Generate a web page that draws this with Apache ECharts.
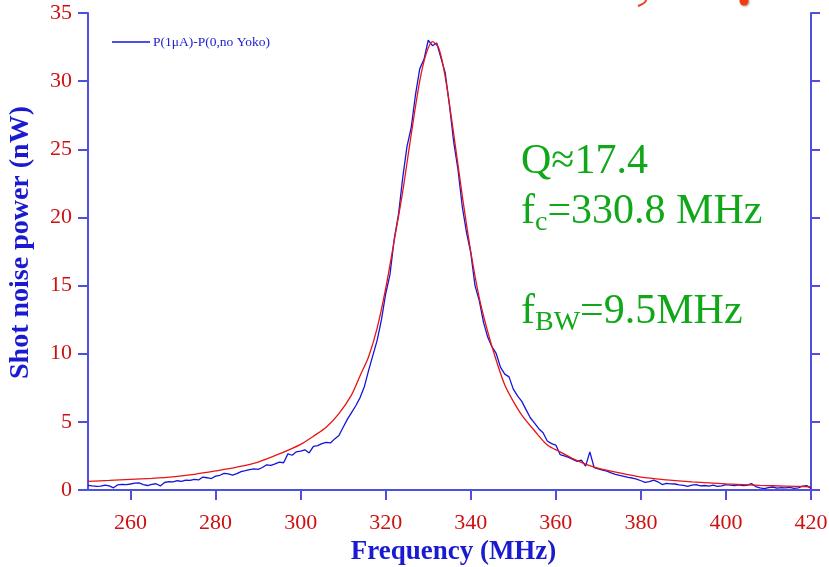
<!DOCTYPE html>
<html>
<head>
<meta charset="utf-8">
<script src="https://cdn.jsdelivr.net/npm/echarts@6/dist/echarts.min.js"></script>
<style>
  html, body { margin: 0; padding: 0; background: #ffffff; }
  #chart { width: 829px; height: 567px; }
</style>
</head>
<body>
<div id="chart"></div>
<script>
// Measured shot noise spectrum, one sample per MHz starting at 250 MHz (nW)
const measuredStart = 250;
const measuredPower = [
  0.34, 0.30, 0.27, 0.28, 0.36, 0.30, 0.16, 0.38, 0.42, 0.40,
  0.44, 0.50, 0.52, 0.40, 0.33, 0.42, 0.46, 0.30, 0.55, 0.62,
  0.60, 0.68, 0.64, 0.73, 0.70, 0.78, 0.74, 0.95, 0.90, 0.84,
  1.02, 1.08, 1.22, 1.18, 1.10, 1.20, 1.35, 1.42, 1.50, 1.55,
  1.52, 1.65, 1.85, 1.80, 1.92, 2.05, 2.00, 2.65, 2.55, 2.80,
  2.85, 2.95, 2.72, 3.20, 3.25, 3.40, 3.50, 3.45, 3.75, 4.00,
  4.60, 5.20, 5.70, 6.20, 6.80, 7.60, 8.80, 9.90, 11.00, 12.50,
  14.40, 15.80, 18.40, 20.20, 22.90, 25.20, 26.60, 29.00, 30.90, 31.60,
  33.00, 32.60, 32.80, 31.70, 30.60, 28.20, 25.50, 23.50, 20.80, 18.90,
  17.40, 15.00, 13.90, 12.30, 11.20, 10.50, 10.00, 9.00, 8.50, 8.30,
  7.40, 6.90, 6.50, 5.90, 5.30, 4.90, 4.50, 4.20, 3.60, 3.40,
  3.30, 2.60, 2.50, 2.40, 2.25, 2.10, 2.20, 1.75, 2.80, 1.65,
  1.55, 1.45, 1.38, 1.25, 1.15, 1.08, 1.00, 0.92, 0.88, 0.80,
  0.68, 0.56, 0.62, 0.72, 0.60, 0.40, 0.48, 0.45, 0.44, 0.38,
  0.34, 0.27, 0.35, 0.40, 0.30, 0.33, 0.28, 0.36, 0.27, 0.30,
  0.40, 0.36, 0.33, 0.38, 0.32, 0.35, 0.47, 0.25, 0.15, 0.10,
  0.18, 0.22, 0.14, 0.18, 0.15, 0.20, 0.12, 0.16, 0.28, 0.32,
  0.12
];

// Resonance fit curve (MHz, nW)
const fitFreq = [
  250, 255, 260, 265, 270, 275, 280, 285, 290, 295,
  300, 303, 306, 309, 312, 314, 316, 318, 320, 322,
  324, 326, 328, 329.5, 331, 332.5, 334, 336, 338, 340,
  342, 344, 346, 348, 350, 352, 355, 358, 361, 365,
  369, 375, 380, 386, 392, 400, 408, 414, 420
];
const fitPower = [
  0.63, 0.70, 0.78, 0.86, 0.97, 1.15, 1.40, 1.68, 2.05, 2.65,
  3.35, 3.95, 4.60, 5.60, 7.00, 8.40, 9.80, 11.90, 14.80, 18.30,
  21.90, 26.10, 30.00, 32.00, 32.90, 32.40, 30.30, 26.10, 21.60, 17.50,
  14.10, 11.60, 9.50, 7.70, 6.50, 5.50, 4.35, 3.30, 2.80, 2.15,
  1.68, 1.25, 0.95, 0.75, 0.60, 0.45, 0.34, 0.29, 0.24
];

// Tick labels
const xTickValues = [260, 280, 300, 320, 340, 360, 380, 400, 420];
const yTicks = { min: 0, max: 35, step: 5 };

const measuredName = 'P(1\u03bcA)-P(0,no Yoko)';
const serif = "'Liberation Serif', 'Times New Roman', 'DejaVu Serif', serif";
const axisBlue = '#5050e0';
const labelRed = '#cc1111';

const measuredData = measuredPower.map((v, i) => [measuredStart + i, v]);
const fitData = fitFreq.map((f, i) => [f, fitPower[i]]);

const chart = echarts.init(document.getElementById('chart'), null, { renderer: 'canvas' });

const lineStyleAxis = { show: true, lineStyle: { color: axisBlue, width: 2 } };

chart.setOption({
  backgroundColor: '#ffffff',
  animation: false,
  grid: { left: 88, right: 18, top: 13, bottom: 77, containLabel: false, outerBoundsMode: 'none' },
  legend: {
    data: [measuredName],
    left: 112, top: 35,
    padding: 0,
    icon: 'rect',
    itemWidth: 38, itemHeight: 1.5,
    itemGap: 4,
    textStyle: { fontFamily: serif, fontSize: 13.5, color: '#2020d0', padding: [0, 0, 0, -2] }
  },
  xAxis: [
    {
      type: 'value', position: 'bottom',
      min: 250, max: 420,
      name: 'Frequency (MHz)', nameLocation: 'middle', nameGap: 48,
      nameTextStyle: { fontFamily: serif, fontSize: 27, fontWeight: 'bold', color: '#1a1ad0', padding: [0, 0, 0, 8] },
      axisLine: lineStyleAxis,
      axisTick: { show: true, inside: false, length: 10, customValues: xTickValues, lineStyle: { color: axisBlue, width: 2 } },
      axisLabel: { customValues: xTickValues, margin: 22, fontFamily: serif, fontSize: 22, color: labelRed },
      splitLine: { show: false }
    },
    {
      type: 'value', position: 'top',
      min: 250, max: 420,
      axisLine: lineStyleAxis,
      axisTick: { show: false }, axisLabel: { show: false }, splitLine: { show: false }
    }
  ],
  yAxis: [
    {
      type: 'value', position: 'left',
      min: yTicks.min, max: yTicks.max, interval: yTicks.step,
      name: 'Shot noise power (nW)', nameLocation: 'middle', nameGap: 53, nameRotate: 90,
      nameTextStyle: { fontFamily: serif, fontSize: 28, fontWeight: 'bold', color: '#1a1ad0', padding: [0, 0, 0, 18] },
      axisLine: lineStyleAxis,
      axisTick: { show: true, inside: false, length: 10, lineStyle: { color: axisBlue, width: 2 } },
      axisLabel: { margin: 16, fontFamily: serif, fontSize: 22, color: labelRed },
      splitLine: { show: false }
    },
    {
      type: 'value', position: 'right',
      min: yTicks.min, max: yTicks.max, interval: yTicks.step,
      axisLine: lineStyleAxis,
      axisTick: { show: true, inside: false, length: 9, lineStyle: { color: axisBlue, width: 2 } },
      axisLabel: { show: false }, splitLine: { show: false }
    }
  ],
  series: [
    {
      name: measuredName, type: 'line', data: measuredData,
      showSymbol: false, symbol: 'none',
      lineStyle: { color: '#1414dc', width: 1.3 }, itemStyle: { color: '#1414dc' },
      z: 2
    },
    {
      name: 'fit', type: 'line', data: fitData, smooth: 0.3,
      showSymbol: false, symbol: 'none',
      lineStyle: { color: '#e81414', width: 1.3 }, itemStyle: { color: '#e81414' },
      z: 3
    }
  ],
  graphic: [
    {
      type: 'text', left: 521, top: 137,
      style: {
        text: 'Q\u224817.4\n{m|f}{s|c}{m|=330.8 MHz}\n\n{m|f}{s|BW}{m|=9.5MHz}',
        fontFamily: serif, fontSize: 42, lineHeight: 50, fill: '#10a818',
        rich: {
          m: { fontFamily: serif, fontSize: 42, lineHeight: 50, fill: '#10a818' },
          s: { fontFamily: serif, fontSize: 28, lineHeight: 20, verticalAlign: 'bottom', fill: '#10a818' }
        }
      }
    },
    // fragments of slide decoration at the top edge
    { type: 'circle', shape: { cx: 744, cy: 1, r: 4.5 }, style: { fill: '#f23a0c', shadowColor: 'rgba(0,0,0,0.35)', shadowBlur: 2, shadowOffsetX: 1, shadowOffsetY: 1 } },
    { type: 'bezierCurve', shape: { x1: 646, y1: 0, x2: 638, y2: 6, cpx1: 646, cpy1: 3 }, style: { stroke: '#e8401a', lineWidth: 2, fill: null } }
  ]
});
</script>
</body>
</html>
